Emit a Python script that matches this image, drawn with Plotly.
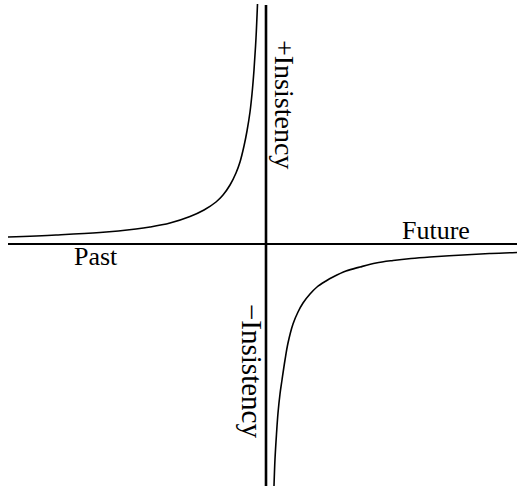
import plotly.graph_objects as go

# Values (origin at the crossing of the two axes)
past_time = [-258, -210, -166, -130, -116, -96, -76, -62, -50, -43, -36, -30, -26, -22,
             -19, -16, -14, -12, -10, -8.5]
past_insistency = [7, 9, 11.5, 15, 17, 21, 27.5, 34, 42, 49, 59, 71, 82, 98,
                   113, 132, 150, 174, 206, 240]

future_time = [8, 9, 10.5, 12, 14, 16, 19, 22, 27, 32, 37, 44, 51, 60, 67, 80, 94,
               110, 127, 145, 164, 197, 225, 251]
future_insistency = [-242, -215, -190, -169, -150, -136, -116, -99, -80, -68, -59, -50,
                     -43, -37, -33, -27, -23, -19, -16.5, -14.5, -13, -11, -9.5, -8.5]

time_axis_extent = [-258, 251]
insistency_axis_extent = [-242, 239]

labels = ["Future", "Past", "+Insistency", "\u2212Insistency"]

FONT = "Liberation Serif"

fig = go.Figure()

# axes
fig.add_trace(go.Scatter(x=time_axis_extent, y=[0, 0], mode="lines",
                         line=dict(color="black", width=2), hoverinfo="skip"))
fig.add_trace(go.Scatter(x=[0, 0], y=insistency_axis_extent, mode="lines",
                         line=dict(color="black", width=2.6), hoverinfo="skip"))

# hyperbola branches
fig.add_trace(go.Scatter(x=past_time, y=past_insistency, mode="lines",
                         line=dict(color="black", width=1.6, shape="spline", smoothing=1),
                         hoverinfo="skip"))
fig.add_trace(go.Scatter(x=future_time, y=future_insistency, mode="lines",
                         line=dict(color="black", width=1.6, shape="spline", smoothing=1),
                         hoverinfo="skip"))

fig.add_annotation(x=170, y=14, text=labels[0], showarrow=False,
                   font=dict(family=FONT, size=26, color="black"))
fig.add_annotation(x=-170, y=-12, text=labels[1], showarrow=False,
                   font=dict(family=FONT, size=26, color="black"))
fig.add_annotation(x=19, y=140, text=labels[2], showarrow=False, textangle=90,
                   font=dict(family=FONT, size=28, color="black"))
fig.add_annotation(x=-14, y=-127, text=labels[3], showarrow=False, textangle=90,
                   font=dict(family=FONT, size=29, color="black"))

fig.update_layout(
    width=517, height=486,
    margin=dict(l=0, r=0, t=0, b=0),
    paper_bgcolor="white", plot_bgcolor="white",
    showlegend=False,
    xaxis=dict(range=[-266, 251], visible=False, fixedrange=True),
    yaxis=dict(range=[-242, 244], visible=False, fixedrange=True),
)

fig.write_html("out.html", config={"displayModeBar": False},
               post_script="document.body.style.margin='0';document.body.style.overflow='hidden';")
